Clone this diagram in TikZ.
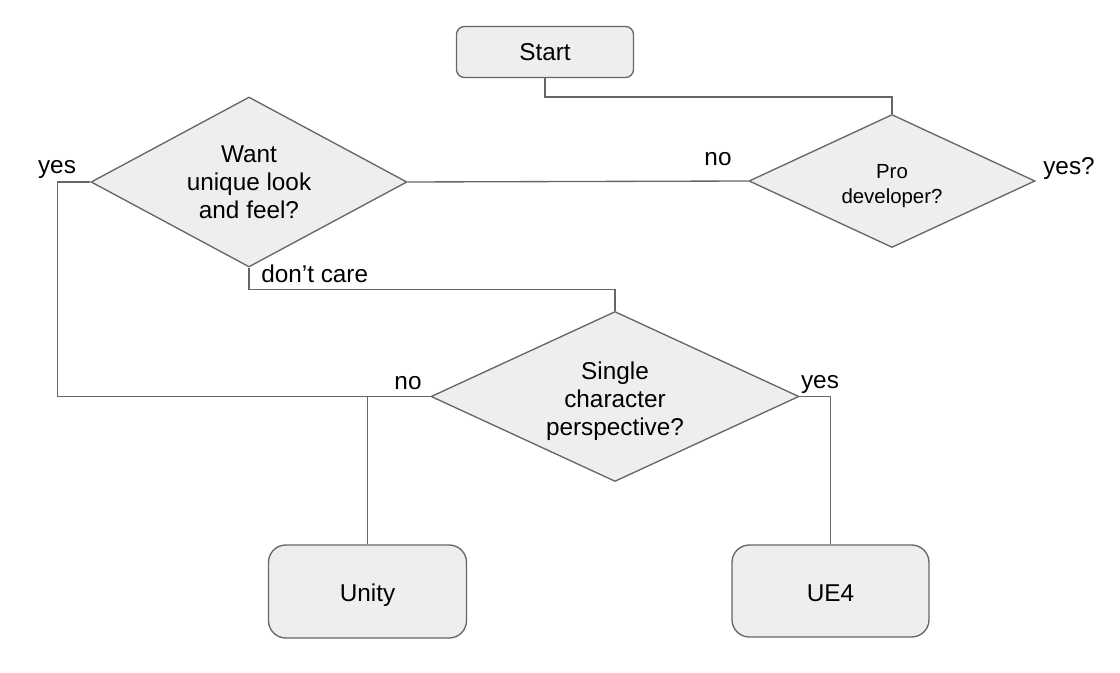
\documentclass[tikz,border=0pt]{standalone}
\usepackage{fontspec}
\setmainfont{Liberation Sans}
\usetikzlibrary{shapes.geometric}
\definecolor{boxfill}{HTML}{EEEEEE}
\definecolor{boxline}{HTML}{666666}
\tikzset{
  base/.style={draw=boxline, fill=boxfill, line width=1pt, align=center, inner sep=0pt,
    font=\fontsize{18.25}{21}\selectfont},
  roundbox/.style={base, rectangle, rounded corners=#1},
  decision/.style={base, diamond},
  conn/.style={draw=boxline, line width=1pt},
  lbl/.style={font=\fontsize{18.25}{21}\selectfont, inner sep=0pt}
}
\begin{document}
\begin{tikzpicture}[x=0.75pt,y=-0.75pt]
\useasboundingbox (0,0) rectangle (1120,673);
\node[roundbox=6pt, minimum width=177*0.75pt, minimum height=51*0.75pt] (start) at (545,52) {Start};
\node[decision, aspect=1.86, minimum width=316*0.75pt, minimum height=170*0.75pt] (want) at (249,182) {Want\\unique look\\and feel?};
\node[decision, aspect=2.15, minimum width=286*0.75pt, minimum height=133*0.75pt, font=\fontsize{15.3}{18.75}\selectfont, text height=33.3pt, text depth=0pt] (pro) at (892,181) {Pro\\developer?};
\node[decision, aspect=2.16, minimum width=368*0.75pt, minimum height=170*0.75pt, text height=59pt, text depth=0pt] (single) at (615,396.5) {Single\\character\\perspective?};
\node[roundbox=13pt, minimum width=198*0.75pt, minimum height=93*0.75pt, text height=15.3pt, text depth=0pt] (unity) at (367.5,591.5) {Unity};
\node[roundbox=13pt, minimum width=197*0.75pt, minimum height=92*0.75pt, text height=16.1pt, text depth=0pt] (ue4) at (830.5,591) {UE4};

\draw[conn] (start.south) -- ++(0,19) -| (pro.north);
\draw[conn] (pro.west) -- (want.east);
\draw[conn] (want.west) -- ++(-33,0) |- (single.west);
\draw[conn] (want.south) -- ++(0,22) -| (single.north);
\draw[conn] (unity.north) -- (unity.north |- single.west);
\draw[conn] (single.east) -- ++(31,0) -| (ue4.north);

\node[lbl] (lyespro) at (1069,169) {yes?};
\node[lbl] (lnopro) at (718,159) {no};
\node[lbl] (lyeswant) at (57,169) {yes};
\node[lbl, anchor=west] (ldc) at (261,274) {don’t care};
\node[lbl] (lnosingle) at (408,383) {no};
\node[lbl] (lyessingle) at (820,384) {yes};
\end{tikzpicture}
\end{document}
